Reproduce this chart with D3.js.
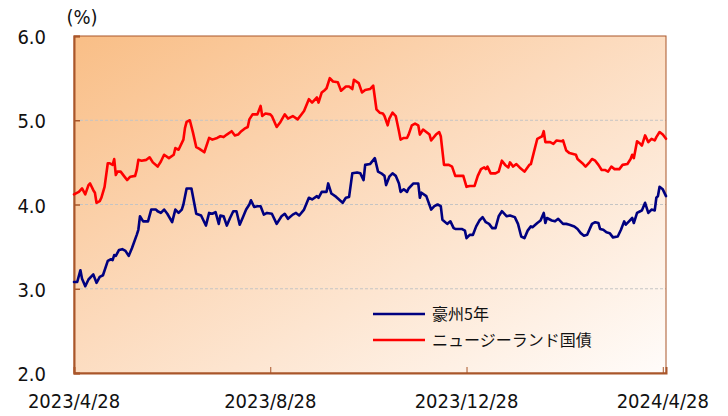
<!DOCTYPE html>
<html>
<head>
<meta charset="utf-8">
<script src="https://cdn.jsdelivr.net/npm/d3@7"></script>
<style>
  html, body { margin: 0; padding: 0; background: #ffffff; }
  svg { display: block; }
  .lbl { font-family: "DejaVu Sans Condensed", "DejaVu Sans", sans-serif; font-size: 20px; fill: #111; }
  .leg { font-family: "Noto Sans CJK JP", sans-serif; font-size: 16px; fill: #111; }
</style>
</head>
<body>
<svg id="chart" width="728" height="416"></svg>
<script>
// ---- data ----
const startDate = "2023-04-28";
const endDate = "2024-04-30";
const xTickDates = ["2023-04-28", "2023-08-28", "2023-12-28", "2024-04-28"];
const xTickLabels = ["2023/4/28", "2023/8/28", "2023/12/28", "2024/4/28"];
const yTicks = [2, 3, 4, 5, 6];
const yTickLabels = ["2.0", "3.0", "4.0", "5.0", "6.0"];
const unitLabel = "(%)";
const seriesNames = ["豪州5年", "ニュージーランド国債"];

// days since 2023-04-28
const ausDays = [0,2,4,5,7,9,12,14,16,18,21,23,24,25,26,28,30,32,34,36,39,40,41,43,46,48,51,52,54,56,58,61,63,65,67,68,70,73,76,79,82,84,86,88,90,91,93,95,97,99,101,103,105,107,109,110,112,114,116,118,120,123,126,129,131,133,136,138,140,143,146,148,151,152,154,157,158,160,163,167,169,171,173,176,178,180,181,184,187,189,191,193,194,196,198,200,202,203,205,207,208,211,214,215,216,219,222,224,226,228,229,232,234,236,237,241,243,244,246,248,250,252,254,256,258,260,262,264,266,267,269,271,274,276,278,280,282,284,285,288,290,292,293,294,297,299,301,304,306,308,311,313,315,317,319,322,324,326,327,329,331,333,335,338,340,342,343,345,347,348,350,352,353,355,357,359,361,362,363,364,366,368];
const ausYield = [3.08,3.08,3.22,3.12,3.03,3.11,3.17,3.07,3.14,3.16,3.33,3.35,3.34,3.40,3.39,3.46,3.47,3.45,3.39,3.48,3.64,3.70,3.86,3.80,3.80,3.94,3.94,3.92,3.90,3.94,3.89,3.79,3.94,3.90,3.94,4.00,4.19,4.19,3.89,3.87,3.75,3.90,3.89,3.91,3.77,3.87,3.86,3.75,3.84,3.92,3.92,3.76,3.85,3.94,4.00,4.05,3.97,3.98,3.98,3.88,3.90,3.89,3.77,3.86,3.89,3.83,3.88,3.90,3.87,3.94,4.08,4.06,4.10,4.08,4.15,4.15,4.25,4.13,4.09,4.02,4.08,4.09,4.37,4.38,4.37,4.29,4.47,4.48,4.55,4.39,4.37,4.34,4.23,4.33,4.37,4.34,4.25,4.15,4.18,4.15,4.19,4.25,4.25,4.08,4.14,4.10,3.94,3.98,4.00,3.98,3.82,3.77,3.80,3.72,3.71,3.71,3.69,3.60,3.64,3.64,3.74,3.81,3.85,3.79,3.77,3.72,3.72,3.86,3.92,3.90,3.86,3.87,3.85,3.77,3.62,3.60,3.69,3.74,3.73,3.78,3.81,3.90,3.78,3.84,3.81,3.80,3.83,3.77,3.77,3.76,3.74,3.71,3.66,3.63,3.64,3.77,3.79,3.78,3.71,3.70,3.67,3.66,3.61,3.62,3.70,3.80,3.76,3.80,3.84,3.78,3.90,3.92,3.93,4.02,3.90,3.94,3.93,4.08,4.10,4.21,4.18,4.10];

const nzDays = [0,3,5,7,9,10,12,13,14,16,17,19,21,22,24,25,26,27,29,31,33,35,38,39,40,42,45,47,49,52,54,56,59,62,63,65,68,69,70,72,74,76,78,81,84,86,89,91,93,95,98,100,102,104,106,108,109,111,114,116,117,119,122,123,126,128,131,133,136,139,141,143,146,148,151,152,154,156,157,159,161,164,166,169,171,173,174,177,179,181,184,186,188,190,192,193,195,196,198,200,202,203,205,207,208,210,212,214,215,217,219,221,222,225,227,228,230,233,235,237,239,242,244,246,249,251,253,255,256,257,259,262,264,266,268,270,271,273,275,277,280,283,284,286,288,290,291,292,293,296,298,300,303,304,306,308,312,313,316,318,320,322,324,326,328,330,332,334,336,339,341,344,346,347,348,350,352,353,355,357,359,361,362,364,366,368];
const nzYield = [4.12,4.15,4.19,4.12,4.23,4.25,4.17,4.14,4.02,4.04,4.08,4.21,4.49,4.49,4.47,4.54,4.35,4.39,4.39,4.34,4.29,4.33,4.34,4.41,4.53,4.52,4.53,4.56,4.50,4.45,4.51,4.59,4.55,4.59,4.67,4.65,4.77,4.91,4.98,5.00,4.85,4.68,4.66,4.62,4.79,4.77,4.79,4.81,4.80,4.83,4.87,4.82,4.83,4.87,4.90,4.92,5.01,5.07,5.07,5.17,5.05,5.08,5.07,5.05,4.92,4.97,5.07,5.02,5.05,5.01,5.06,5.11,5.25,5.21,5.27,5.21,5.33,5.36,5.38,5.50,5.46,5.45,5.35,5.40,5.40,5.37,5.48,5.44,5.33,5.36,5.37,5.41,5.13,5.09,5.08,5.05,4.94,5.02,5.09,5.05,4.87,4.77,4.79,4.79,4.83,4.94,4.96,4.94,4.83,4.89,4.86,4.83,4.76,4.83,4.86,4.81,4.47,4.47,4.45,4.34,4.34,4.34,4.21,4.22,4.22,4.34,4.42,4.44,4.42,4.45,4.37,4.37,4.39,4.52,4.47,4.44,4.50,4.45,4.48,4.44,4.39,4.47,4.48,4.63,4.78,4.80,4.81,4.87,4.74,4.74,4.72,4.76,4.75,4.76,4.64,4.61,4.59,4.54,4.49,4.45,4.49,4.54,4.52,4.47,4.41,4.41,4.39,4.45,4.42,4.42,4.47,4.48,4.54,4.59,4.55,4.75,4.72,4.70,4.82,4.74,4.78,4.76,4.80,4.86,4.83,4.78];

// ---- layout ----
const W = 728, H = 416;
const m = { left: 74, right: 62, top: 36, bottom: 43 };
const axisColor = "#A9562A";
const colors = ["#000080", "#FF0000"];

const parse = d3.timeParse("%Y-%m-%d");
const t0 = parse(startDate);
const toSeries = (days, vals) => days.map((d, i) => ({ date: d3.timeDay.offset(t0, d), v: vals[i] }));
const aus = toSeries(ausDays, ausYield);
const nz = toSeries(nzDays, nzYield);

const svg = d3.select("#chart");
const x = d3.scaleTime().domain([t0, parse(endDate)]).range([m.left, W - m.right]);
const y = d3.scaleLinear().domain([2, 6]).range([H - m.bottom, m.top]);

// background gradient
const defs = svg.append("defs");
const grad = defs.append("linearGradient").attr("id", "bg")
  .attr("x1", 0).attr("y1", 0).attr("x2", 1).attr("y2", 1);
grad.append("stop").attr("offset", 0).attr("stop-color", "#F9BE86");
grad.append("stop").attr("offset", 0.45).attr("stop-color", "#FCDABC");
grad.append("stop").attr("offset", 1).attr("stop-color", "#FFFCFA");

svg.append("rect")
  .attr("x", m.left).attr("y", m.top)
  .attr("width", W - m.left - m.right).attr("height", H - m.top - m.bottom)
  .attr("fill", "url(#bg)");

// gridlines
svg.append("g").selectAll("line").data(yTicks.filter(v => v > 2 && v < 6)).join("line")
  .attr("x1", m.left + 6).attr("x2", W - m.right)
  .attr("y1", d => y(d)).attr("y2", d => y(d))
  .attr("stroke", "#C4C4C4").attr("stroke-width", 1).attr("stroke-dasharray", "3,2");

// frame
svg.append("rect")
  .attr("x", m.left).attr("y", m.top)
  .attr("width", W - m.left - m.right).attr("height", H - m.top - m.bottom)
  .attr("fill", "none").attr("stroke", axisColor).attr("stroke-width", 1);

// y axis
const yAxis = d3.axisRight(y).tickValues(yTicks).tickSize(6).tickFormat("");
const gy = svg.append("g").attr("transform", `translate(${m.left},0)`).call(yAxis);
gy.select(".domain").attr("stroke", axisColor).attr("stroke-width", 2);
gy.selectAll(".tick line").attr("stroke", axisColor).attr("stroke-width", 1.5);
svg.append("g").selectAll("text").data(yTicks).join("text")
  .attr("class", "lbl").attr("text-anchor", "end")
  .attr("x", 46).attr("y", d => y(d) + 8)
  .text((d, i) => yTickLabels[i]);

// x axis
const xAxis = d3.axisTop(x).tickValues(xTickDates.map(parse)).tickSize(6).tickFormat("");
const gx = svg.append("g").attr("transform", `translate(0,${H - m.bottom})`).call(xAxis);
gx.select(".domain").attr("stroke", axisColor).attr("stroke-width", 2);
gx.selectAll(".tick line").attr("stroke", axisColor).attr("stroke-width", 1);
svg.append("g").selectAll("text").data(xTickDates).join("text")
  .attr("class", "lbl").attr("text-anchor", "middle")
  .attr("x", d => x(parse(d))).attr("y", 408)
  .text((d, i) => xTickLabels[i]);

// unit
svg.append("text").attr("class", "lbl").attr("text-anchor", "middle")
  .attr("x", 82).attr("y", 24).text(unitLabel);

// lines
const line = d3.line().x(d => x(d.date)).y(d => y(d.v)).curve(d3.curveLinear);
[aus, nz].forEach((s, i) => {
  svg.append("path").datum(s)
    .attr("fill", "none").attr("stroke", colors[i]).attr("stroke-width", 2.6)
    .attr("stroke-linejoin", "round").attr("stroke-linecap", "round")
    .attr("d", line);
});

// legend
const leg = svg.append("g");
seriesNames.forEach((name, i) => {
  const ly = 314 + i * 26;
  leg.append("line").attr("x1", 373).attr("x2", 425).attr("y1", ly).attr("y2", ly)
    .attr("stroke", colors[i]).attr("stroke-width", 2.6);
  leg.append("text").attr("class", "leg").attr("x", 432).attr("y", ly + 6).text(name);
});
</script>
</body>
</html>
